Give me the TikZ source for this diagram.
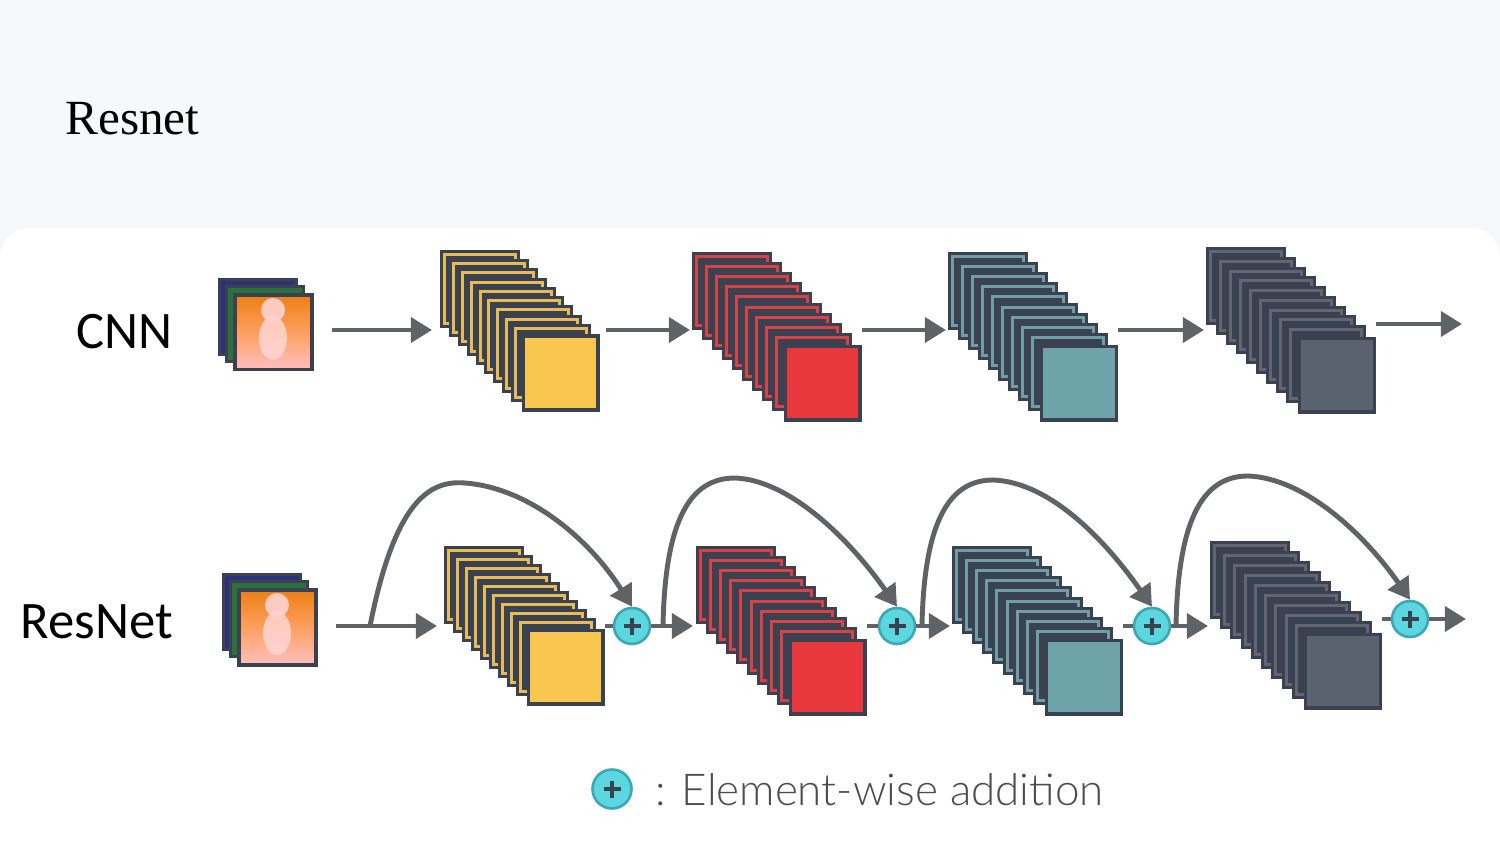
\documentclass[tikz,border=0pt]{standalone}
\usepackage{fontspec}
\setmainfont{Liberation Serif}
\newfontfamily\carl{Carlito}
\newfontfamily\latof{Lato Light}
\usetikzlibrary{arrows.meta}
\definecolor{bgt}{HTML}{F7F8FC}
\definecolor{ol}{HTML}{3A4150}
\definecolor{cy}{HTML}{F9C74F}
\definecolor{cr}{HTML}{E8373D}
\definecolor{ct}{HTML}{6FA3AA}
\definecolor{cd}{HTML}{5A6270}
\definecolor{arr}{HTML}{5F6366}
\definecolor{plusf}{HTML}{5CD6DF}
\definecolor{pluso}{HTML}{3CA8B5}
\tikzset{
 x=0.02cm,y=-0.02cm,
 ar/.style={draw=arr,line width=2.8pt,-{Triangle[length=12pt,width=14pt]}},
 ln/.style={draw=arr,line width=2.8pt},
 plus/.style={circle,fill=plusf,draw=pluso,line width=1.5pt,minimum size=0.72cm,inner sep=0pt,
   path picture={\draw[ol,line width=2.4pt] ([xshift=-0.17cm]path picture bounding box.center) -- ([xshift=0.17cm]path picture bounding box.center)
   ([yshift=-0.17cm]path picture bounding box.center) -- ([yshift=0.17cm]path picture bounding box.center);}},
}
% #1 back x, #2 back y, #3 dx, #4 dy, #5 colour, #6 name
\newcommand{\mystack}[6]{%
 \foreach \i in {0,...,8}{
   \fill[ol] (#1+\i*#3/9,#2+\i*#4/9) rectangle ++(80,78);
   \fill[#5!85!gray] (#1+\i*#3/9+3,#2+\i*#4/9+3) rectangle ++(74,72);
   \fill[ol] (#1+\i*#3/9+6,#2+\i*#4/9+6) rectangle ++(68,66);
 }
 \node[draw=ol,line width=2.2pt,fill=#5,minimum width=1.5cm,minimum height=1.48cm,inner sep=0pt,anchor=north west] (#6) at (#1+#3+1.5,#2+#4+1.5) {};
}
\newcommand{\myimg}[3]{%
 \fill[ol] (#1,#2) rectangle ++(80,78);
 \fill[blue!25!ol] (#1+3,#2+3) rectangle ++(74,72);
 \fill[ol] (#1+7,#2+7) rectangle ++(80,78);
 \fill[green!25!ol] (#1+10,#2+10) rectangle ++(74,72);
 \node[draw=ol,line width=2pt,inner sep=0pt,minimum width=1.55cm,minimum height=1.5cm,anchor=north west,
   top color=orange!70!brown,bottom color=red!25!white,middle color=orange!50!pink] (#3) at (#1+15,#2+15) {};
 \fill[pink!60!white,opacity=.8] (#1+55,#2+60) ellipse (14 and 22);
 \fill[pink!70!white,opacity=.9] (#1+55,#2+32) circle (12);
}
\begin{document}
\begin{tikzpicture}
\useasboundingbox (0,0) rectangle (1500,844);
\fill[bgt] (0,0) rectangle (1500,844);
\fill[white] (0,228) [rounded corners=0.6cm] rectangle (1500,870);
\node[anchor=base west,font=\fontsize{28}{32}\selectfont,inner sep=0pt] (title) at (65,135) {Resnet};
\node[anchor=base east,font=\carl\fontsize{30}{34}\selectfont,inner sep=0pt] (cnn) at (173,348) {CNN};
\node[anchor=base east,font=\carl\fontsize{30}{34}\selectfont,inner sep=0pt] (res) at (173,638) {ResNet};
% CNN row
\myimg{218}{278}{i1}
\mystack{440}{250}{80}{83}{cy}{a1}
\mystack{692}{252}{90}{91}{cr}{a2}
\mystack{948}{252}{90}{91}{ct}{a3}
\mystack{1206}{247}{90}{88}{cd}{a4}
\coordinate (c0s) at (332,330); \coordinate (c0e) at (432,330);
\coordinate (c1s) at (606,330); \coordinate (c1e) at (690,330);
\coordinate (c2s) at (862,330); \coordinate (c2e) at (946,330);
\coordinate (c3s) at (1118,330); \coordinate (c3e) at (1204,330);
\coordinate (c4s) at (1376,324); \coordinate (c4e) at (1462,324);
\foreach \k in {0,...,4}{\draw[ar] (c\k s) -- (c\k e);}
% ResNet row
\myimg{222}{573}{i2}
\mystack{444}{546}{81}{81}{cy}{b1}
\mystack{696}{546}{91}{91}{cr}{b2}
\mystack{952}{546}{91}{91}{ct}{b3}
\mystack{1210}{541}{92}{90}{cd}{b4}
\node[plus] (p1) at (632,626) {};
\node[plus] (p2) at (897,626) {};
\node[plus] (p3) at (1152,626) {};
\node[plus] (p4) at (1410,619) {};
\coordinate (r0) at (336,626); \coordinate (r0e) at (437,626);
\coordinate (s0) at (370,626);
\draw[ar] (r0) -- (r0e);
\coordinate (r1e) at (693,626); \coordinate (r2e) at (950,626);
\coordinate (r3e) at (1208,626); \coordinate (r4e) at (1466,619);
\draw[ar] (p1) -- (r1e);
\draw[ar] (p2) -- (r2e);
\draw[ar] (p3) -- (r3e);
\draw[ar] (p4) -- (r4e);
\draw[ln] (b1.east|-p1) -- (p1);
\draw[ln] (b2.east|-p2) -- (p2);
\draw[ln] (b3.east|-p3) -- (p3);
\draw[ln] (b4.east|-p4) -- (p4);
\coordinate (s1) at (663,626); \coordinate (s2) at (922,626); \coordinate (s3) at (1176,626);
\draw[ar] (s0) .. controls (395,500) and (430,480) .. (465,483) .. controls (530,488) and (590,540) .. (p1.north);
\draw[ar] (s1) .. controls (665,520) and (690,478) .. (735,478) .. controls (790,480) and (850,540) .. (p2.north);
\draw[ar] (s2) .. controls (924,520) and (950,480) .. (993,480) .. controls (1050,482) and (1105,540) .. (p3.north);
\draw[ar] (s3) .. controls (1178,515) and (1205,476) .. (1248,476) .. controls (1305,478) and (1365,535) .. (p4.north);
% legend
\node[plus,minimum size=0.78cm] (lp) at (612,789) {};
\node[anchor=base west,font=\latof\fontsize{25}{30}\selectfont,text=black!70,inner sep=0pt] (lt) at (655,805) {: Element-wise addition};
\end{tikzpicture}
\end{document}
